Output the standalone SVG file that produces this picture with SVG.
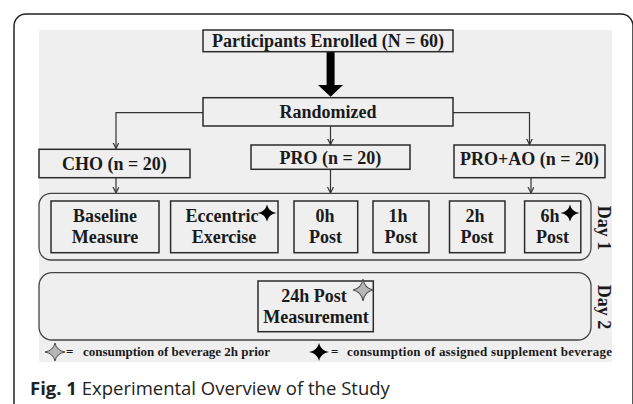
<svg xmlns="http://www.w3.org/2000/svg" width="633" height="404" viewBox="0 0 633 404">
<style>
.box{fill:none;stroke:#2b2b2b;stroke-width:1.5}
.cont{fill:none;stroke:#444;stroke-width:1.3}
.t{font-family:"Liberation Serif",serif;font-weight:bold;font-size:18px;fill:#1a1a1a;text-anchor:middle}
.lg{font-family:"Liberation Serif",serif;font-weight:bold;font-size:13px;fill:#1a1a1a}
.ln{fill:none;stroke:#333;stroke-width:1.2}
.cap{font-family:"Open Sans",sans-serif;font-size:18.5px;fill:#222}
</style>
<defs>
<marker id="ah" markerWidth="8" markerHeight="8" refX="6" refY="3" orient="auto" markerUnits="userSpaceOnUse">
<path d="M0,0 L6,3 L0,6" fill="none" stroke="#333" stroke-width="1.2"/>
</marker>
<path id="star" d="M0,-10 Q1.6,-1.6 10,0 Q1.6,1.6 0,10 Q-1.6,1.6 -10,0 Q-1.6,-1.6 0,-10Z"/>
</defs>
<rect x="14" y="14" width="619" height="410" rx="12" fill="#fff" stroke="#222" stroke-width="1.5"/>
<rect x="39" y="30" width="573" height="332" fill="#efefef"/>
<g id="connectors">
<path class="ln" d="M203,112.7 H116 V148.5" marker-end="url(#ah)"/>
<path class="ln" d="M453,112.7 H529.5 V144.5" marker-end="url(#ah)"/>
<path class="ln" d="M330.5,126 V144.5" marker-end="url(#ah)"/>
<path class="ln" d="M116,177.7 V193" marker-end="url(#ah)"/>
<path class="ln" d="M330.5,169.3 V193" marker-end="url(#ah)"/>
<path class="ln" d="M531,177.7 V193" marker-end="url(#ah)"/>
<path d="M326.6,51.7 H334.6 V85 H343 L330.6,96.7 L318,85 H326.6 Z" fill="#000"/>
</g>
<g id="enrolled"><rect class="box" x="203" y="30" width="250" height="21.7"/><text class="t" x="328" y="47">Participants Enrolled (N = 60)</text></g>
<g id="randomized"><rect class="box" x="203" y="97.7" width="250" height="28.3"/><text class="t" x="328" y="118">Randomized</text></g>
<g id="cho"><rect class="box" x="39" y="149.3" width="151" height="28.4"/><text class="t" x="114.5" y="170">CHO (n = 20)</text></g>
<g id="pro"><rect class="box" x="251" y="145" width="159" height="24.3"/><text class="t" x="330.5" y="163.5">PRO (n = 20)</text></g>
<g id="proao"><rect class="box" x="454" y="145" width="151" height="32.7"/><text class="t" x="529.5" y="164.5">PRO+AO (n = 20)</text></g>
<g id="day1">
<rect class="cont" x="39" y="193.3" width="552" height="66.7" rx="12"/>
<text class="t" transform="translate(598,228) rotate(90)">Day 1</text>
</g>
<g id="baseline"><rect class="box" x="51" y="201" width="108" height="51.7"/><text class="t" x="105" y="221.7">Baseline</text><text class="t" x="105" y="242.7">Measure</text></g>
<g id="eccentric"><rect class="box" x="170.6" y="201" width="107.4" height="51.7"/><text class="t" x="222" y="221.7">Eccentric</text><text class="t" x="224" y="242.7">Exercise</text><use href="#star" transform="translate(267,213) scale(0.95,0.85)" fill="#000"/></g>
<g id="post0"><rect class="box" x="294" y="201" width="63.7" height="51.7"/><text class="t" x="325" y="221.7">0h</text><text class="t" x="325.5" y="242.7">Post</text></g>
<g id="post1"><rect class="box" x="373" y="201" width="56" height="51.7"/><text class="t" x="398" y="221.7">1h</text><text class="t" x="401" y="242.7">Post</text></g>
<g id="post2"><rect class="box" x="449.5" y="201" width="55.5" height="51.7"/><text class="t" x="475" y="221.7">2h</text><text class="t" x="477" y="242.7">Post</text></g>
<g id="post6"><rect class="box" x="524.6" y="201" width="56.2" height="51.7"/><text class="t" x="550" y="221.7">6h</text><text class="t" x="552.5" y="242.7">Post</text><use href="#star" transform="translate(570,213) scale(0.95,0.85)" fill="#000"/></g>
<g id="day2">
<rect class="cont" x="39" y="272.7" width="552" height="67.3" rx="13"/>
<text class="t" transform="translate(598,307) rotate(90)">Day 2</text>
</g>
<g id="post24"><rect class="box" x="258" y="281" width="115.3" height="50.7"/><text class="t" x="314" y="301.5">24h Post</text><text class="t" x="316" y="323">Measurement</text><use href="#star" transform="translate(363,290) scale(1,1.1)" fill="#b5b5b5" stroke="#444" stroke-width="1"/></g>
<g id="legend">
<use href="#star" transform="translate(55,352) scale(1,0.9)" fill="#b5b5b5" stroke="#444" stroke-width="1"/>
<text class="lg" x="66" y="356">=</text>
<text class="lg" x="83" y="356" textLength="187">consumption of beverage 2h prior</text>
<use href="#star" transform="translate(319,352) scale(1,0.9)" fill="#000"/>
<text class="lg" x="331" y="356">=</text>
<text class="lg" x="347" y="356" textLength="265">consumption of assigned supplement beverage</text>
</g>
<text class="cap" x="30" y="395"><tspan font-weight="bold">Fig. 1</tspan> Experimental Overview of the Study</text>
</svg>
